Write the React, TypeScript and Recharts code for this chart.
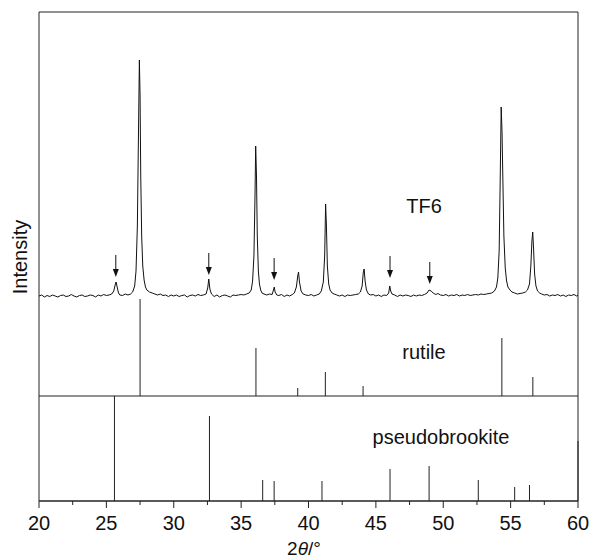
import { ComposedChart, Line, XAxis, YAxis, ReferenceLine, ReferenceArea, Scatter } from 'recharts';

// TF6 pattern (2θ in degrees, height in px above its own baseline)
const tf6Angle = [
  20.0, 20.2, 20.4, 20.6, 20.8, 21.0, 21.2, 21.4, 21.6, 21.8, 22.0, 22.2, 22.4, 22.6, 22.8, 23.0, 23.2, 23.4, 23.6, 23.8,
  24.0, 24.2, 24.4, 24.6, 24.8, 25.0, 25.2, 25.4, 25.55, 25.65, 25.72, 25.8, 25.9, 26.0, 26.2, 26.4, 26.6, 26.8, 26.95,
  27.1, 27.2, 27.3, 27.38, 27.45, 27.5, 27.55, 27.62, 27.7, 27.8, 27.9, 28.0, 28.2, 28.4, 28.6, 28.8, 29.0, 29.2, 29.4,
  29.6, 29.8, 30.0, 30.2, 30.4, 30.6, 30.8, 31.0, 31.2, 31.4, 31.6, 31.8, 32.0, 32.2, 32.4, 32.52, 32.6, 32.68, 32.8,
  33.0, 33.2, 33.4, 33.6, 33.8, 34.0, 34.2, 34.4, 34.6, 34.8, 35.0, 35.2, 35.4, 35.6, 35.75, 35.85, 35.95, 36.03, 36.08,
  36.14, 36.2, 36.28, 36.36, 36.45, 36.55, 36.7, 36.9, 37.1, 37.3, 37.4, 37.46, 37.52, 37.65, 37.8, 38.0, 38.2, 38.4,
  38.6, 38.8, 38.95, 39.1, 39.2, 39.26, 39.33, 39.45, 39.6, 39.8, 40.0, 40.2, 40.4, 40.6, 40.8, 40.95, 41.1, 41.2, 41.27,
  41.33, 41.4, 41.5, 41.6, 41.75, 41.9, 42.1, 42.3, 42.5, 42.7, 42.9, 43.1, 43.3, 43.5, 43.7, 43.85, 43.98, 44.07, 44.13,
  44.2, 44.3, 44.45, 44.6, 44.8, 45.0, 45.2, 45.4, 45.6, 45.8, 45.95, 46.03, 46.1, 46.2, 46.4, 46.6, 46.8, 47.0, 47.2,
  47.4, 47.6, 47.8, 48.0, 48.2, 48.4, 48.6, 48.8, 48.95, 49.1, 49.25, 49.45, 49.6, 49.8, 50.0, 50.2, 50.4, 50.6, 50.8,
  51.0, 51.2, 51.4, 51.6, 51.8, 52.0, 52.2, 52.4, 52.6, 52.8, 53.0, 53.2, 53.4, 53.6, 53.8, 53.95, 54.05, 54.15, 54.22,
  54.3, 54.36, 54.42, 54.5, 54.6, 54.7, 54.8, 54.95, 55.1, 55.3, 55.5, 55.7, 55.9, 56.1, 56.25, 56.4, 56.5, 56.58, 56.64,
  56.7, 56.78, 56.88, 57.0, 57.15, 57.3, 57.5, 57.7, 57.9, 58.1, 58.3, 58.5, 58.7, 58.9, 59.1, 59.3, 59.5, 59.7, 59.9, 60.0,
];
const tf6Counts = [
  0, 1, -1, 0.5, -0.5, 1, 0, -1, 0.5, 1, -0.5, 0, 1.5, 0, -1, 0.5, 1, -0.5, 0, 1,
  0.5, -1, 1, 0, 1.5, 0.5, 1, 2, 5, 11, 14, 9, 3, 1, 0.5, 2, 1, 2, 4,
  10, 25, 70, 160, 236, 200, 120, 60, 30, 16, 9, 6, 4, 3, 2, 1, 2, 0.5, 1,
  -0.5, 1, 0, 1, -0.5, 0.5, 1, -1, 0.5, 1, 0, 1.5, 0.5, 1, 2, 8, 17, 7, 2,
  -0.5, 1, -1, 0.5, 1, 0, -1, 1, 0.5, 1, 1.5, 1, 2, 3, 6, 15, 40, 100, 150,
  120, 60, 25, 12, 6, 3, 2, 1, 2, 1.5, 6, 9, 4, 1, 0.5, 1.5, -0.5, 1,
  0, 1.5, 3, 9, 20, 24, 14, 5, 2, 1, 0.5, 1.5, 0, 1, 2, 5, 14, 40, 92,
  70, 30, 12, 6, 3, 2, 1, 0, 1, -0.5, 1, 0.5, 1, 1.5, 2, 4, 10, 24, 27,
  15, 6, 2, 1, 1.5, 0, 1, -0.5, 1, 0.5, 3, 10, 5, 2, 1, -0.5, 1, 0, 1,
  0.5, -0.5, 1, 0, 1, 0.5, 1.5, 3, 6, 5, 3, 1.5, 2.5, 1, 0.5, 1.5, 0, 1, 0.5,
  1.5, 0, 1, 0.5, 1.5, 0.5, 1, 1.5, 1, 2, 1.5, 2, 2.5, 3, 5, 9, 18, 45, 110,
  189, 165, 120, 60, 28, 15, 9, 6, 4, 3, 2, 2.5, 3, 4, 6, 12, 30, 55, 64,
  48, 22, 10, 5, 3, 2, 1, 1.5, 0, 1, 0.5, 1.5, 0, 1, -0.5, 1, 0.5, 1.5, 0, 1,
];

// marked pseudobrookite reflections in TF6 (arrow tip height above TF6 baseline)
const arrowAngle = [25.7, 32.6, 37.45, 46.05, 49.0];
const arrowTip = [19, 21, 16, 18, 12];

// reference patterns (stick heights)
const rutileAngle = [27.5, 36.1, 39.2, 41.25, 44.05, 54.35, 56.65];
const rutileHeight = [97, 48, 8, 24, 10, 58, 19];
const pbAngle = [25.6, 32.65, 36.6, 37.45, 41.0, 46.05, 48.95, 52.6, 55.3, 56.4, 60.0];
const pbHeight = [105, 85, 21, 20, 20, 32, 35, 21, 14, 16, 60];

const xTicks = [20, 22.5, 25, 27.5, 30, 32.5, 35, 37.5, 40, 42.5, 45, 47.5, 50, 52.5, 55, 57.5, 60];

// vertical offsets of the three panels (same units as px)
const PB_BASE = 0;
const RUTILE_BASE = 105;
const TF6_BASE = 205;
const Y_MAX = 489;

const FONT = '"Liberation Sans", Arial, Helvetica, sans-serif';

const tf6Data = tf6Angle.map((a, i) => ({ x: a, y: TF6_BASE + tf6Counts[i] }));
const arrowData = arrowAngle.map((a, i) => ({ x: a, y: TF6_BASE + arrowTip[i] }));

const AxisTick = (props: any) => {
  const { x, y, payload } = props;
  const v = payload.value;
  const major = v % 5 === 0;
  return (
    <g>
      <line x1={x} y1={y} x2={x} y2={y + (major ? 7 : 4)} stroke="#222" />
      {major && (
        <text x={x} y={y + 29} textAnchor="middle" fontSize={20} fill="#111" fontFamily={FONT}>
          {v}
        </text>
      )}
    </g>
  );
};

const Arrow = (props: any) => {
  const { cx, cy } = props;
  return (
    <g>
      <line x1={cx} y1={cy - 22} x2={cx} y2={cy - 6} stroke="#111" strokeWidth={1} />
      <polygon points={`${cx - 3},${cy - 8} ${cx + 3},${cy - 8} ${cx},${cy}`} fill="#111" />
    </g>
  );
};

const label = (text: any, left: number, top: number, extra: any = {}) => (
  <div
    style={{
      position: 'absolute',
      left,
      top,
      transform: 'translate(-50%, -50%)',
      fontFamily: FONT,
      fontSize: 20,
      color: '#111',
      whiteSpace: 'nowrap',
      lineHeight: 1,
      ...extra,
    }}
  >
    {text}
  </div>
);

export default function App() {
  return (
    <div style={{ position: 'absolute', left: 0, top: 0, width: 594, height: 560, background: '#fff' }}>
      <ComposedChart width={594} height={560} data={tf6Data} margin={{ top: 12, right: 16, left: 39, bottom: 0 }}>
        <XAxis
          dataKey="x"
          type="number"
          domain={[20, 60]}
          ticks={xTicks}
          interval={0}
          height={59}
          tickSize={0}
          tickMargin={0}
          tickLine={false}
          axisLine={{ stroke: '#222' }}
          tick={<AxisTick />}
          allowDataOverflow
        />
        <YAxis type="number" domain={[0, Y_MAX]} hide allowDataOverflow />
        <ReferenceArea x1={20} x2={60} y1={0} y2={Y_MAX} fill="none" stroke="#222" strokeWidth={1} />
        <ReferenceLine y={RUTILE_BASE} stroke="#222" strokeWidth={1} />
        {rutileAngle.map((a, i) => (
          <ReferenceLine
            key={'r' + i}
            segment={[
              { x: a, y: RUTILE_BASE },
              { x: a, y: RUTILE_BASE + rutileHeight[i] },
            ]}
            stroke="#222"
            strokeWidth={1}
          />
        ))}
        {pbAngle.map((a, i) => (
          <ReferenceLine
            key={'p' + i}
            segment={[
              { x: a, y: PB_BASE },
              { x: a, y: PB_BASE + pbHeight[i] },
            ]}
            stroke="#222"
            strokeWidth={1}
          />
        ))}
        <Line data={tf6Data} dataKey="y" type="linear" dot={false} stroke="#111" strokeWidth={1} isAnimationActive={false} />
        <Scatter data={arrowData} dataKey="y" shape={<Arrow />} isAnimationActive={false} />
      </ComposedChart>
      {label('Intensity', 20, 257, { transform: 'translate(-50%, -50%) rotate(-90deg)' })}
      {label('TF6', 424, 206)}
      {label('rutile', 424, 352)}
      {label('pseudobrookite', 441, 437)}
      {label(
        <span>
          2<i>θ</i>/°
        </span>,
        304,
        548,
        { fontSize: 19 }
      )}
    </div>
  );
}
